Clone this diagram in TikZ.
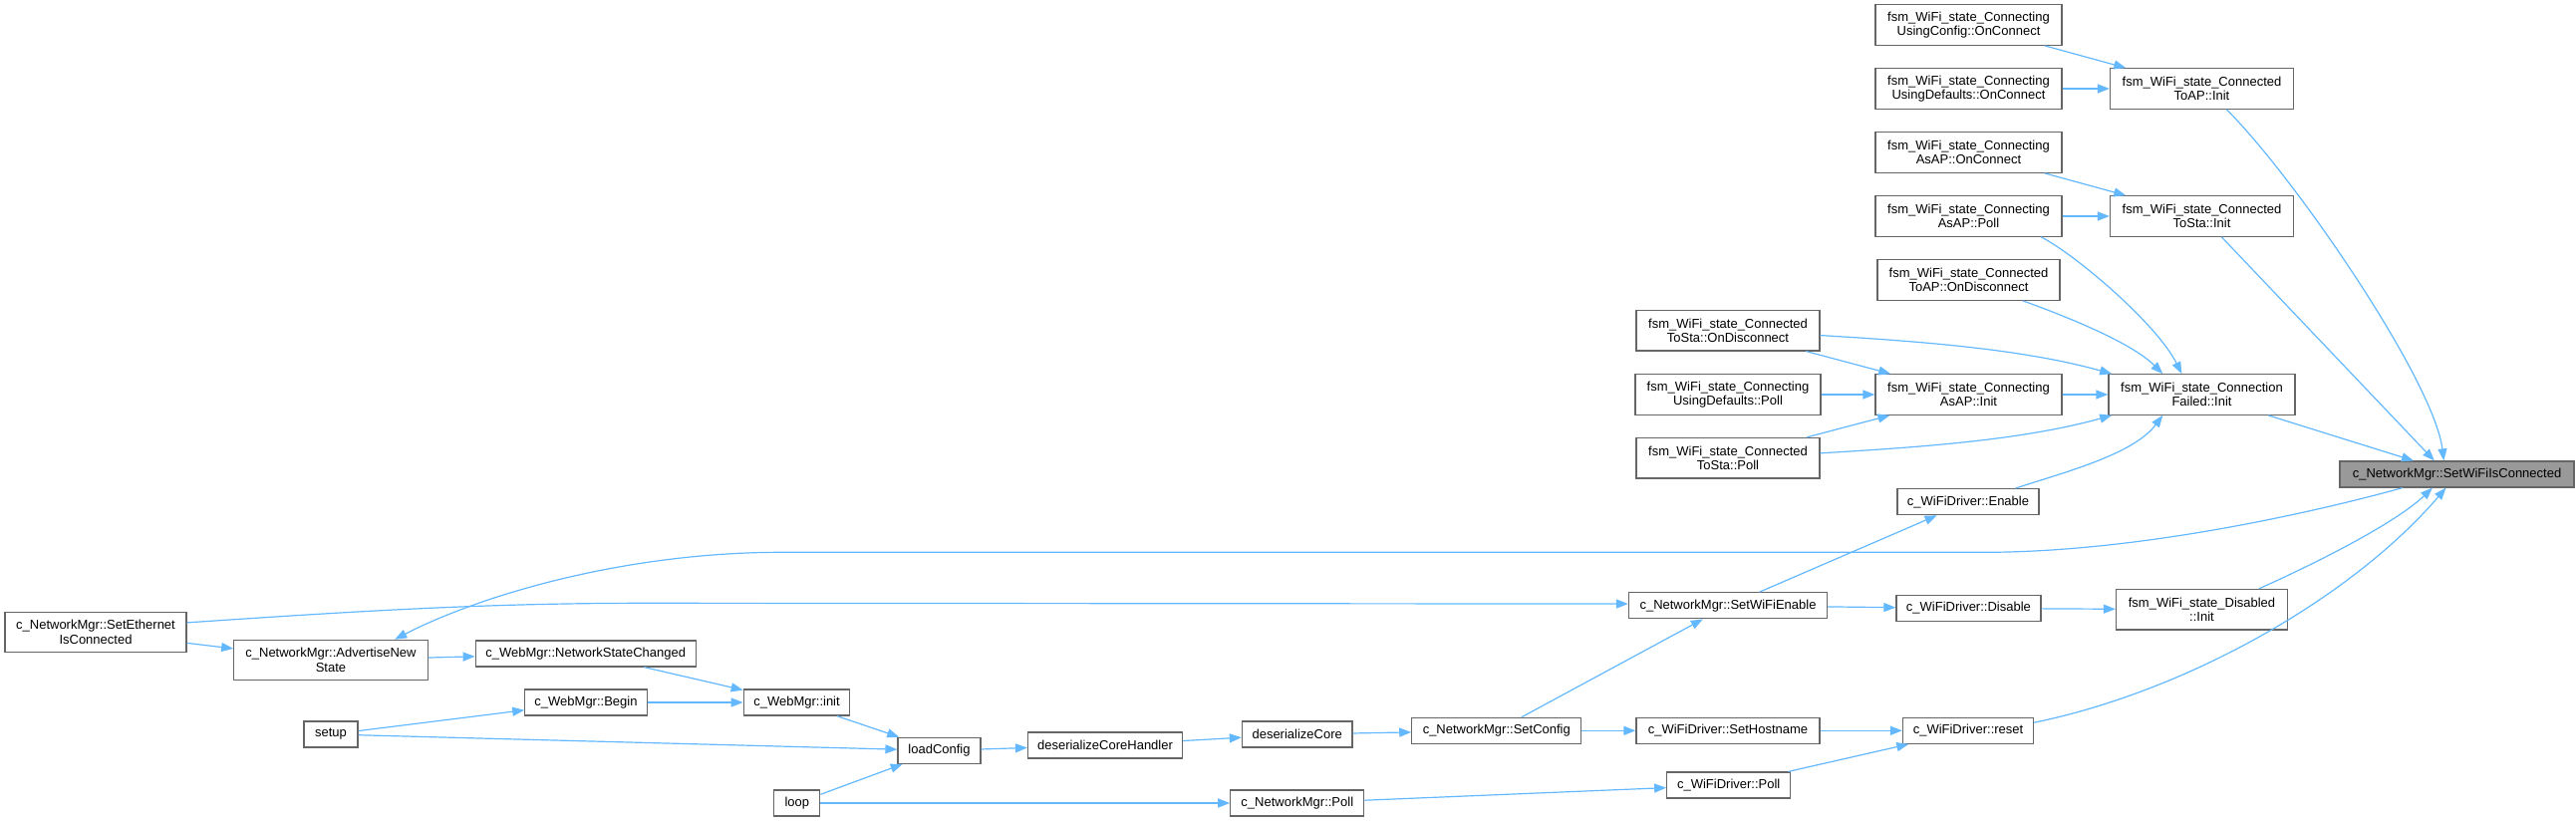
\documentclass[tikz,border=0pt]{standalone}
\usepackage{fontspec}
\setmainfont{Liberation Sans}
\usetikzlibrary{arrows.meta}
\definecolor{edgeblue}{HTML}{63B8FF}
\definecolor{boxgray}{HTML}{666666}
\definecolor{targetgray}{HTML}{999999}

\begin{document}
\begin{tikzpicture}[
		>={Triangle[length=12pt,width=9pt]},
		x=1pt, y=-1pt,
		fn/.style={draw=boxgray,fill=white,line width=1.2pt,inner sep=0pt,
			minimum height=26pt,align=center,font=\fontsize{13}{14.5}\selectfont},
		fntwo/.style={fn,minimum height=40.5pt},
		call/.style={->,draw=edgeblue,line width=1.2pt}
	]
	\useasboundingbox (0,0) rectangle (2585,825);

	\node[fn,fill=targetgray,minimum width=235pt] (setWiFiIsConn) at (2465.5,476) {c\_NetworkMgr::SetWiFiIsConnected};

	\node[fntwo,minimum width=184pt] (toapInit) at (2209.5,89) {fsm\_WiFi\_state\_Connected\\ToAP::Init};
	\node[fntwo,minimum width=184pt] (tostaInit) at (2209.5,217) {fsm\_WiFi\_state\_Connected\\ToSta::Init};
	\node[fntwo,minimum width=187pt] (connFailed) at (2209.5,396) {fsm\_WiFi\_state\_Connection\\Failed::Init};
	\node[fntwo,minimum width=172pt] (disabledInit) at (2209.5,611.7) {fsm\_WiFi\_state\_Disabled\\::Init};

	\node[fntwo,minimum width=187pt] (ucOnConnect) at (1975.5,25) {fsm\_WiFi\_state\_Connecting\\UsingConfig::OnConnect};
	\node[fntwo,minimum width=187pt] (udOnConnect) at (1975.5,89) {fsm\_WiFi\_state\_Connecting\\UsingDefaults::OnConnect};
	\node[fntwo,minimum width=187pt] (asapOnConnect) at (1975.5,153) {fsm\_WiFi\_state\_Connecting\\AsAP::OnConnect};
	\node[fntwo,minimum width=187pt] (asapPoll) at (1975.5,217) {fsm\_WiFi\_state\_Connecting\\AsAP::Poll};
	\node[fntwo,minimum width=183pt] (toapOnDisc) at (1975.5,281) {fsm\_WiFi\_state\_Connected\\ToAP::OnDisconnect};
	\node[fntwo,minimum width=187pt] (asapInit) at (1975.5,396) {fsm\_WiFi\_state\_Connecting\\AsAP::Init};
	\node[fn,minimum width=142pt] (drvEnable) at (1975,503.7) {c\_WiFiDriver::Enable};
	\node[fn,minimum width=145pt] (drvDisable) at (1975.4,610.5) {c\_WiFiDriver::Disable};
	\node[fn,minimum width=131pt] (drvReset) at (1975,733.3) {c\_WiFiDriver::reset};

	\node[fntwo,minimum width=184pt] (tostaOnDisc) at (1734,331.7) {fsm\_WiFi\_state\_Connected\\ToSta::OnDisconnect};
	\node[fntwo,minimum width=186pt] (udPoll) at (1734,396) {fsm\_WiFi\_state\_Connecting\\UsingDefaults::Poll};
	\node[fntwo,minimum width=184pt] (tostaPoll) at (1734,459.7) {fsm\_WiFi\_state\_Connected\\ToSta::Poll};
	\node[fn,minimum width=199pt] (setWiFiEnable) at (1734,607.8) {c\_NetworkMgr::SetWiFiEnable};
	\node[fn,minimum width=184pt] (drvSetHost) at (1734,733.3) {c\_WiFiDriver::SetHostname};
	\node[fn,minimum width=124pt] (drvPoll) at (1734.7,788) {c\_WiFiDriver::Poll};

	\node[fn,minimum width=170pt] (setConfig) at (1501.8,733.3) {c\_NetworkMgr::SetConfig};
	\node[fn,minimum width=110.6pt] (desCore) at (1301.7,737) {deserializeCore};
	\node[fn,minimum width=134pt] (nmPoll) at (1301.8,806) {c\_NetworkMgr::Poll};
	\node[fn,minimum width=155pt] (desCoreHandler) at (1109,748) {deserializeCoreHandler};
	\node[fn,minimum width=83pt] (loadConfig) at (942.5,753.3) {loadConfig};
	\node[fn,minimum width=106.5pt] (webInit) at (799.5,705) {c\_WebMgr::init};
	\node[fn,minimum width=46pt] (loop) at (799.8,806) {loop};
	\node[fn,minimum width=221pt] (netStateChanged) at (587.7,656) {c\_WebMgr::NetworkStateChanged};
	\node[fn,minimum width=122.4pt] (webBegin) at (588,705) {c\_WebMgr::Begin};
	\node[fntwo,minimum width=194.5pt] (advNewState) at (332,662.5) {c\_NetworkMgr::AdvertiseNew\\State};
	\node[fn,minimum width=54pt] (setup) at (332,737) {setup};
	\node[fntwo,minimum width=182pt] (setEth) at (96,634.5) {c\_NetworkMgr::SetEthernet\\IsConnected};

	\draw[call] (ucOnConnect) -- (toapInit);
	\draw[call] (udOnConnect) -- (toapInit);
	\draw[call] (asapOnConnect) -- (tostaInit);
	\draw[call] (asapPoll) -- (tostaInit);
	\draw[call] (asapPoll.-16) .. controls +(35,18) and +(-25,-50) .. (connFailed.134);
	\draw[call] (toapOnDisc.-21) .. controls +(50,18) and +(-30,-30) .. (connFailed.152);
	\draw[call] (tostaOnDisc.-3) .. controls +(100,6) and +(-90,-25) .. (connFailed.167);
	\draw[call] (tostaOnDisc) -- (asapInit);
	\draw[call] (udPoll) -- (asapInit);
	\draw[call] (asapInit) -- (connFailed);
	\draw[call] (tostaPoll) -- (asapInit);
	\draw[call] (tostaPoll.3) .. controls +(100,-6) and +(-90,25) .. (connFailed.-167);
	\draw[call] (drvEnable.16) .. controls +(45,-15) and +(-30,40) .. (connFailed.-152);

	\draw[call] (connFailed) -- (setWiFiIsConn);
	\draw[call] (toapInit.-40) .. controls +(70,70) and +(-10,-80) .. (setWiFiIsConn.134);
	\draw[call] (tostaInit) -- (setWiFiIsConn.149);
	\draw[call] (disabledInit.20) .. controls +(45,-20) and +(-40,38) .. (setWiFiIsConn.-151);
	\draw[call] (drvReset.7) .. controls (2194,694) and (2360,600) .. (setWiFiIsConn.-129);
	\draw[call] (setWiFiIsConn.-166) .. controls (2330,512) and (2150,554.3) .. (1991,554.3)
		-- (784,554.3) .. controls (630,554.3) and (485,596) .. (advNewState.18);

	\draw[call] (setWiFiEnable) -- (drvEnable);
	\draw[call] (setWiFiEnable) -- (drvDisable);
	\draw[call] (drvDisable) -- (disabledInit);
	\draw[call] (setConfig) -- (setWiFiEnable);
	\draw[call] (setConfig) -- (drvSetHost);
	\draw[call] (drvSetHost) -- (drvReset);
	\draw[call] (drvPoll) -- (drvReset);
	\draw[call] (nmPoll) -- (drvPoll);

	\draw[call] (loop) -- (nmPoll);
	\draw[call] (loop) -- (loadConfig);
	\draw[call] (loadConfig) -- (desCoreHandler);
	\draw[call] (desCoreHandler) -- (desCore);
	\draw[call] (desCore) -- (setConfig);
	\draw[call] (setup) -- (loadConfig);
	\draw[call] (setup) -- (webBegin);
	\draw[call] (webBegin) -- (webInit);
	\draw[call] (netStateChanged) -- (webInit);
	\draw[call] (webInit) -- (loadConfig);
	\draw[call] (advNewState) -- (netStateChanged);
	\draw[call] (setEth) -- (advNewState);
	\draw[call] (setEth.6) .. controls (350,614) and (480,605.3) .. (650,605.3) -- (setWiFiEnable.179);
\end{tikzpicture}
\end{document}
